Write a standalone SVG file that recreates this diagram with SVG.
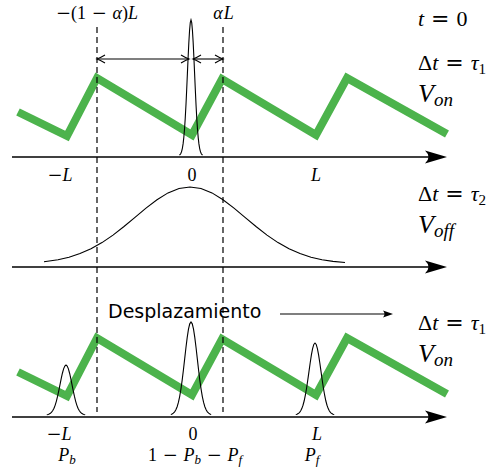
<svg xmlns="http://www.w3.org/2000/svg" xmlns:xlink="http://www.w3.org/1999/xlink" width="493" height="469" viewBox="0 0 493 469">
<style>
.axis{stroke:#000;stroke-width:1.5;fill:none}
.saw{stroke:#4cb34c;stroke-width:8;fill:none;stroke-linejoin:miter;stroke-miterlimit:10}
.dash{stroke:#000;stroke-width:1.2;stroke-dasharray:6 4;fill:none}
.g{stroke:#000;stroke-width:1.1;fill:none;vector-effect:non-scaling-stroke}
.thin{stroke:#000;stroke-width:1.1;fill:none}
.m{font-family:"Liberation Serif","DejaVu Serif",serif;font-style:italic;fill:#000}
.sm{font-size:18px}
.big{font-size:22px}
.vl{font-size:26px}
.u{font-style:normal}
.op{font-family:"DejaVu Serif",serif;font-style:normal;font-weight:normal}
.s{font-family:"DejaVu Sans",sans-serif;fill:#000}
</style>
<defs>
<marker id="ah" markerUnits="userSpaceOnUse" viewBox="-23 -8 25 16" refX="-6" refY="0" markerWidth="25" markerHeight="16" orient="auto" overflow="visible">
<path d="M0,0 L-22,-6.5 Q-15,0 -22,6.5 Z" fill="#000"/>
</marker>
<marker id="sah" markerUnits="userSpaceOnUse" viewBox="-12 -5 13 10" refX="-3" refY="0" markerWidth="13" markerHeight="10" orient="auto" overflow="visible">
<path d="M0,0 L-10,-3.5 Q-7,0 -10,3.5 Z" fill="#000"/>
</marker>
<path id="head" d="M-8,-4 Q-3,-1 0,0 Q-3,1 -8,4" stroke="#000" stroke-width="1.1" fill="none"/>
<path id="gauss" d="M-3.2,-0.00598 L-3,-0.01111 -2.8,-0.01984 -2.6,-0.03405 -2.4,-0.05613 -2.2,-0.08892 -2,-0.13534 -1.8,-0.1979 -1.6,-0.27804 -1.4,-0.37531 -1.2,-0.48675 -1,-0.60653 -0.8,-0.72615 -0.6,-0.83527 -0.4,-0.92312 -0.2,-0.9802 0,-1 0.2,-0.9802 0.4,-0.92312 0.6,-0.83527 0.8,-0.72615 1,-0.60653 1.2,-0.48675 1.4,-0.37531 1.6,-0.27804 1.8,-0.1979 2,-0.13534 2.2,-0.08892 2.4,-0.05613 2.6,-0.03405 2.8,-0.01984 3,-0.01111 3.2,-0.00598" class="g"/>
<polyline id="sawtooth" points="18,112 67,136 97,78 192,135 222,79 316,135 347,78 447,134" class="saw"/>
</defs>

<g id="panel-top">
<use xlink:href="#sawtooth"/>
<use xlink:href="#gauss" transform="translate(191,156) scale(3.6,136)"/>
<text class="m sm" x="60" y="181" text-anchor="middle"><tspan class="op">−</tspan>L</text>
<text class="m sm u" x="192" y="181" text-anchor="middle">0</text>
<text class="m sm" x="316" y="181" text-anchor="middle">L</text>
<text class="m sm" x="97" y="19" text-anchor="middle"><tspan class="op">−</tspan><tspan class="u">(1</tspan><tspan class="op"> − </tspan>α<tspan class="u">)</tspan>L</text>
<text class="m sm" x="224" y="19" text-anchor="middle" letter-spacing="1">αL</text>
<text class="m big" x="418" y="26">t<tspan class="op"> = </tspan><tspan class="u">0</tspan></text>
<text class="m big" x="418" y="70"><tspan class="u">Δ</tspan>t<tspan class="op"> = </tspan>τ<tspan class="u" font-size="15" dy="4">1</tspan></text>
<text class="m vl" x="418" y="102">V<tspan font-size="19" dy="4">on</tspan></text>
</g>

<g id="panel-middle">
<polyline class="thin" points="44,261.7 58,259.7 69,257.2 80,253.6 91,248.8 102,242.6 113,235.1 124,226.5 135,217.3 146,208.1 157,199.7 168,192.9 179,188.5 190,187 201,188.5 212,192.9 223,199.7 234,208.1 245,217.3 256,226.5 267,235.1 278,242.6 289,248.8 300,253.6 311,257.2 322,259.7 333,261.4 345,262.5"/>
<text class="m big" x="418" y="201"><tspan class="u">Δ</tspan>t<tspan class="op"> = </tspan>τ<tspan class="u" font-size="15" dy="4">2</tspan></text>
<text class="m vl" x="418" y="233">V<tspan font-size="19" dy="4">off</tspan></text>
</g>

<g id="panel-bottom">
<use xlink:href="#sawtooth" transform="translate(0,260)"/>
<use xlink:href="#gauss" transform="translate(66,415) scale(6,50)"/>
<use xlink:href="#gauss" transform="translate(191,415) scale(6.3,93)"/>
<use xlink:href="#gauss" transform="translate(315,415) scale(6,72)"/>
<text class="s" x="108" y="318" font-size="19">Desplazamiento</text>
<text class="m sm" x="59" y="440" text-anchor="middle"><tspan class="op">−</tspan>L</text>
<text class="m sm" x="67" y="461" text-anchor="middle">P<tspan font-size="13" dy="3">b</tspan></text>
<text class="m sm u" x="193" y="440" text-anchor="middle">0</text>
<text class="m sm" x="195" y="461" text-anchor="middle"><tspan class="u">1</tspan><tspan class="op"> − </tspan>P<tspan font-size="13" dy="3">b</tspan><tspan class="op" dy="-3"> − </tspan>P<tspan font-size="13" dy="3">f</tspan></text>
<text class="m sm" x="317" y="440" text-anchor="middle">L</text>
<text class="m sm" x="312" y="461" text-anchor="middle">P<tspan font-size="13" dy="3">f</tspan></text>
<text class="m big" x="418" y="330"><tspan class="u">Δ</tspan>t<tspan class="op"> = </tspan>τ<tspan class="u" font-size="15" dy="4">1</tspan></text>
<text class="m vl" x="418" y="362">V<tspan font-size="19" dy="4">on</tspan></text>
</g>

<g id="connectors">
<line class="axis" x1="12" y1="157" x2="441" y2="157" marker-end="url(#ah)"/>
<line class="axis" x1="12" y1="267" x2="441" y2="267" marker-end="url(#ah)"/>
<line class="axis" x1="12" y1="417" x2="441" y2="417" marker-end="url(#ah)"/>
<line class="dash" x1="97" y1="27" x2="97" y2="412"/>
<line class="dash" x1="223" y1="27" x2="223" y2="412"/>
<line class="thin" x1="97" y1="59" x2="189" y2="59"/>
<line class="thin" x1="193" y1="59" x2="223" y2="59"/>
<use xlink:href="#head" transform="translate(97,59) rotate(180)"/>
<use xlink:href="#head" transform="translate(189,59)"/>
<use xlink:href="#head" transform="translate(193,59) rotate(180)"/>
<use xlink:href="#head" transform="translate(223,59)"/>
<line class="thin" x1="280" y1="314" x2="390" y2="314" marker-end="url(#sah)"/>
</g>
</svg>
